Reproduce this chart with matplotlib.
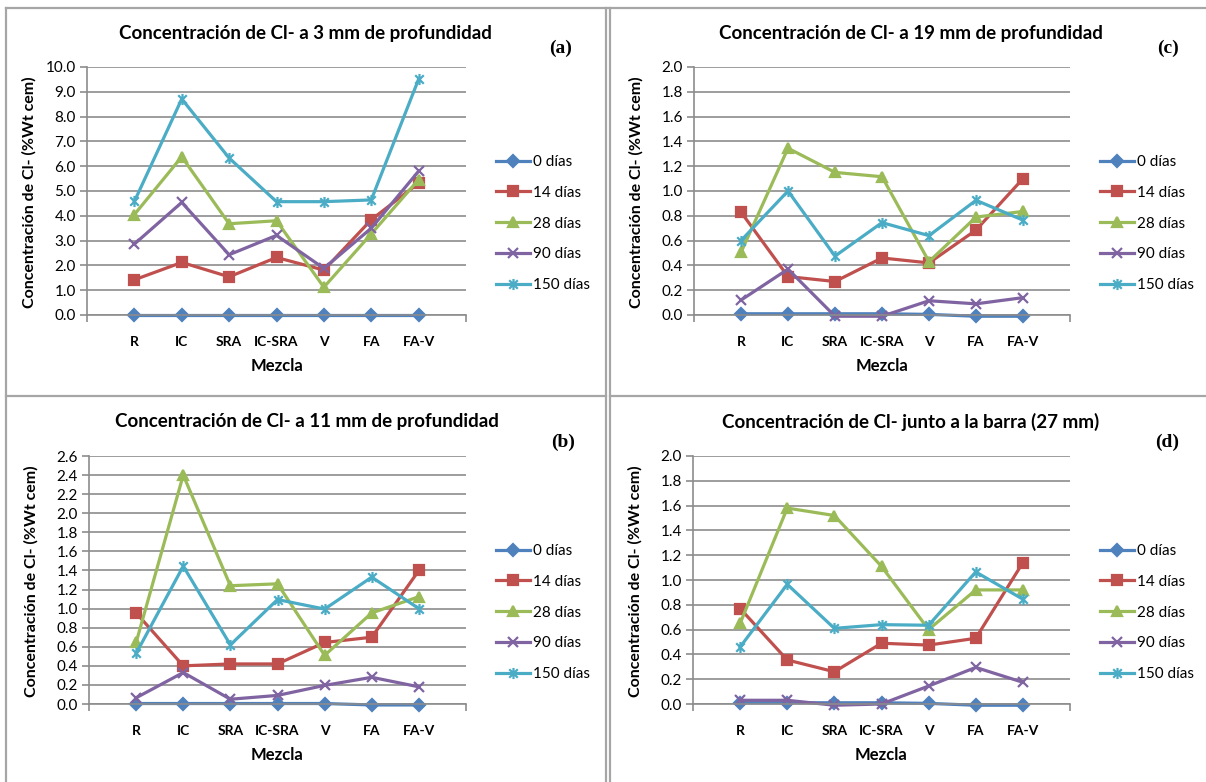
import numpy as np
import matplotlib
matplotlib.use("Agg")
import matplotlib.pyplot as plt
from matplotlib.path import Path
from matplotlib.lines import Line2D

plt.rcParams['font.family'] = ['Lato', 'DejaVu Sans']

W, H = 1206, 782

# ---- data ----
mezclas = ["R", "IC", "SRA", "IC-SRA", "V", "FA", "FA-V"]
series = ["0 días", "14 días", "28 días", "90 días", "150 días"]

# (a) 3 mm
a_0 = [0.0, 0.0, 0.0, 0.0, 0.0, 0.0, 0.0]
a_14 = [1.42, 2.12, 1.54, 2.32, 1.81, 3.84, 5.32]
a_28 = [4.05, 6.38, 3.68, 3.80, 1.12, 3.27, 5.46]
a_90 = [2.86, 4.54, 2.43, 3.21, 1.88, 3.50, 5.80]
a_150 = [4.58, 8.71, 6.33, 4.57, 4.57, 4.64, 9.51]

# (c) 19 mm
c_0 = [0.01, 0.01, 0.01, 0.01, 0.005, -0.01, -0.01]
c_14 = [0.83, 0.31, 0.27, 0.46, 0.42, 0.685, 1.10]
c_28 = [0.505, 1.345, 1.15, 1.115, 0.43, 0.79, 0.835]
c_90 = [0.12, 0.37, -0.01, -0.01, 0.115, 0.09, 0.14]
c_150 = [0.60, 1.00, 0.475, 0.745, 0.64, 0.925, 0.765]

# (b) 11 mm
b_0 = [0.005, 0.005, 0.005, 0.005, 0.005, -0.01, -0.01]
b_14 = [0.955, 0.40, 0.42, 0.42, 0.645, 0.70, 1.40]
b_28 = [0.645, 2.40, 1.24, 1.26, 0.51, 0.955, 1.125]
b_90 = [0.065, 0.33, 0.05, 0.09, 0.195, 0.28, 0.18]
b_150 = [0.53, 1.445, 0.62, 1.095, 0.995, 1.33, 1.00]

# (d) junto a la barra (27 mm)
d_0 = [0.01, 0.01, 0.01, 0.01, 0.005, -0.01, -0.01]
d_14 = [0.77, 0.355, 0.26, 0.49, 0.475, 0.53, 1.14]
d_28 = [0.65, 1.58, 1.52, 1.11, 0.60, 0.92, 0.92]
d_90 = [0.03, 0.03, -0.01, 0.0, 0.145, 0.295, 0.175]
d_150 = [0.46, 0.965, 0.61, 0.64, 0.635, 1.065, 0.845]

colors = ["#4F81BD", "#C0504D", "#9BBB59", "#8064A2", "#4BACC6"]

# Excel style asterisk: x plus vertical bar
star = Path([(-1, -1), (1, 1), (-1, 1), (1, -1), (0, -1.3), (0, 1.3)],
            [Path.MOVETO, Path.LINETO, Path.MOVETO, Path.LINETO, Path.MOVETO, Path.LINETO])
markers = ["D", "s", "^", "x", star]
msizes = [6, 7, 7.5, 7, 8]


def px(x, y):
    return x / W, 1 - y / H


def panel(box, data, ymax, ystep, title, letter, dy):
    # box = (left, top, right, bottom) of the axes in pixels
    l, t, r, b = box
    ax = fig.add_axes([l / W, 1 - b / H, (r - l) / W, (b - t) / H])
    x = np.arange(len(mezclas))
    for vals, lbl, col, mk, ms in zip(data, series, colors, markers, msizes):
        ax.plot(x, vals, color=col, lw=2.3, marker=mk, ms=ms, mew=1.6,
                mfc=col, mec=col, label=lbl, clip_on=False)
    ax.set_xlim(-1, 7)
    ax.set_ylim(0, ymax)
    ax.set_yticks(np.arange(0, ymax + ystep / 2, ystep))
    ax.yaxis.set_major_formatter(plt.FormatStrFormatter("%.1f"))
    ax.grid(axis="y", color="#8c8c8c", lw=1.2)
    ax.set_axisbelow(True)
    ax.set_xticks(x)
    ax.set_xticklabels(mezclas, fontweight="bold", fontsize=10)
    ax.set_xticks([-1, 7], minor=True)
    ax.tick_params(axis="x", which="major", length=0, pad=15)
    ax.tick_params(axis="x", which="minor", length=5, color="#8c8c8c", width=1.2)
    ax.tick_params(axis="y", length=5, color="#8c8c8c", width=1.2, labelsize=11, pad=3)
    for s in ["top", "right"]:
        ax.spines[s].set_visible(False)
    for s in ["left", "bottom"]:
        ax.spines[s].set_color("#8c8c8c")
        ax.spines[s].set_linewidth(1.2)

    cx = (l + r) / 2
    fig.text(*px(cx + 29, t - 34), title, ha="center", va="center",
             fontsize=13.5, fontweight="bold")
    fig.text(*px(l + 474, t - 19 + dy), letter, ha="center", va="center",
             fontsize=14, fontweight="bold", family="Liberation Serif")
    fig.text(*px(l - 58, (t + b) / 2 + 1), "Concentración de Cl- (%Wt cem)",
             ha="center", va="center", rotation=90, fontsize=11.5, fontweight="bold")
    fig.text(*px(cx, b + 51), "Mezcla", ha="center", va="center",
             fontsize=12, fontweight="bold")
    ax.legend(loc="upper left", bbox_to_anchor=px(r + 30, t + 88),
              bbox_transform=fig.transFigure, frameon=False, fontsize=11,
              borderpad=0, borderaxespad=0, handlelength=2.2, handletextpad=0.2,
              labelspacing=1.1)
    return ax


fig = plt.figure(figsize=(W / 100, H / 100), dpi=100)

panel((87, 67, 466, 315), [a_0, a_14, a_28, a_90, a_150], 10.0, 1.0,
      "Concentración de Cl- a 3 mm de profundidad", "(a)", 0)
panel((694, 67, 1070, 315), [c_0, c_14, c_28, c_90, c_150], 2.0, 0.2,
      "Concentración de Cl- a 19 mm de profundidad", "(c)", 0)
panel((89, 456, 466, 704), [b_0, b_14, b_28, b_90, b_150], 2.6, 0.2,
      "Concentración de Cl- a 11 mm de profundidad", "(b)", 5)
panel((693, 456, 1070, 704), [d_0, d_14, d_28, d_90, d_150], 2.0, 0.2,
      "Concentración de Cl- junto a la barra (27 mm)", "(d)", 5)

# panel frames
frame = dict(color="#a6a6a6", lw=1.6)
for (x0, y0), (x1, y1) in [((6, 8), (1206, 8)), ((6, 8), (6, 782)),
                           ((606, 8), (606, 782)), ((610, 8), (610, 782)),
                           ((6, 396), (606, 396)), ((610, 396), (1206, 396))]:
    fig.add_artist(Line2D([x0 / W, x1 / W], [1 - y0 / H, 1 - y1 / H], **frame))

fig.savefig("out.png", dpi=100)
